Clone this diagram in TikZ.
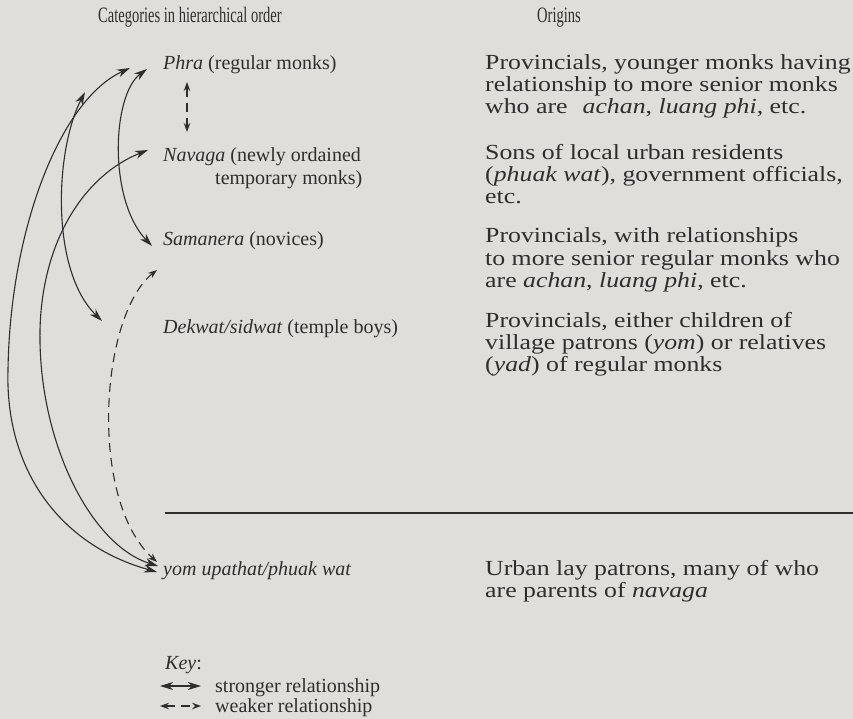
\documentclass[tikz,border=0pt]{standalone}
\usepackage{fontspec}
\setmainfont{Liberation Serif}
\newfontfamily\headfont[FakeStretch=0.66]{Liberation Serif}
\newfontfamily\widefont[FakeStretch=1.2]{Liberation Serif}
\usetikzlibrary{arrows.meta}
\definecolor{paper}{HTML}{DFDEDB}
\definecolor{ink}{HTML}{2E2E2E}
\begin{document}
\begin{tikzpicture}[x=1pt,y=-1pt,
  cat/.style={anchor=base west, inner sep=0pt, align=left, text=ink,
    font=\fontsize{20}{23}\selectfont},
  orig/.style={anchor=base west, inner sep=0pt, align=left, text=ink,
    font=\widefont\fontsize{21.5}{22}\selectfont},
  head/.style={anchor=base west, inner sep=0pt, text=ink,
    font=\headfont\fontsize{22}{24}\selectfont},
  tipS/.tip={Stealth[length=13pt,width=8pt,inset=4pt]},
  tipW/.tip={Stealth[length=9pt,width=6.5pt,inset=3pt]},
  strong/.style={draw=ink, line width=1.1pt, tipS-tipS},
  weak/.style={draw=ink, line width=1.1pt, dash pattern=on 9pt off 6pt, tipW-tipW},
]
\fill[paper] (0,0) rectangle (853,719);
\useasboundingbox (0,0) rectangle (853,719);

% column headings
\node[head] (hcat) at (98,23) {Categories in hierarchical order};
\node[head] (horig) at (537,23) {Origins};

% categories (multi-line nodes are placed by their last baseline)
\node[cat] (phra) at (163,70) {\textit{Phra} (regular monks)};
\node[cat] (navaga) at (163,185) {\textit{Navaga} (newly ordained\\\hspace*{52pt}temporary monks)};
\node[cat] (samanera) at (163,245) {\textit{Samanera} (novices)};
\node[cat] (dekwat) at (163,333) {\textit{Dekwat/sidwat} (temple boys)};
\node[cat] (yom) at (163,575) {\textit{yom upathat/phuak wat}};

% origins
\node[orig] (o1) at (485,114) {Provincials, younger monks having\\relationship to more senior monks\\who are\hspace{0.4em} \textit{achan}, \textit{luang phi}, etc.};
\node[orig] (o2) at (485,204) {Sons of local urban residents\\(\textit{phuak wat}), government officials,\\etc.};
\node[orig] (o3) at (485,287) {Provincials, with relationships\\to more senior regular monks who\\are \textit{achan}, \textit{luang phi}, etc.};
\node[orig] (o4) at (485,371) {Provincials, either children of\\village patrons (\textit{yom}) or relatives\\(\textit{yad}) of regular monks};
\node[orig] (o5) at (485,597) {Urban lay patrons, many of who\\are parents of \textit{navaga}};

% rule between monastic and lay categories
\coordinate (ruleL) at (165,513);
\coordinate (ruleR) at (853,513);
\draw[ink, line width=1.2pt] (ruleL) -- (ruleR);

% connector ends beside the category names
\coordinate (phraA) at (130,68);
\coordinate (phraB) at (147,69);
\coordinate (phraC) at (187,82);
\coordinate (onA)   at (85,92);
\coordinate (navA)  at (187,132);
\coordinate (navB)  at (148,150);
\coordinate (samA)  at (152,246);
\coordinate (samB)  at (157,270);
\coordinate (dekA)  at (102,321);
\coordinate (yomA)  at (157,572);
\coordinate (yomB)  at (158,566);
\coordinate (yomC)  at (157,562);

% relationships
\draw[strong] (yomA) .. controls (60,545) and (5,470) .. (8,370)
                     .. controls (10,230) and (60,100) .. (phraA);
\draw[strong] (navB) .. controls (85,175) and (42,240) .. (40,330)
                     .. controls (38,440) and (90,545) .. (yomB);
\draw[strong] (onA) .. controls (55,150) and (50,270) .. (dekA);
\draw[strong] (phraB) .. controls (112,95) and (108,200) .. (samA);
\draw[weak] (samB) .. controls (100,315) and (88,500) .. (yomC);
\draw[weak] (phraC) -- (navA);

% key
\node[cat] (key) at (165,669) {\textit{Key}:};
\coordinate (k1a) at (160,686);
\coordinate (k1b) at (201,686);
\coordinate (k2a) at (160,706);
\coordinate (k2b) at (201,706);
\draw[strong] (k1a) -- (k1b);
\draw[weak] (k2a) -- (k2b);
\node[cat] (kstrong) at (215,692) {stronger relationship};
\node[cat] (kweak) at (215,712) {weaker relationship};
\end{tikzpicture}
\end{document}
